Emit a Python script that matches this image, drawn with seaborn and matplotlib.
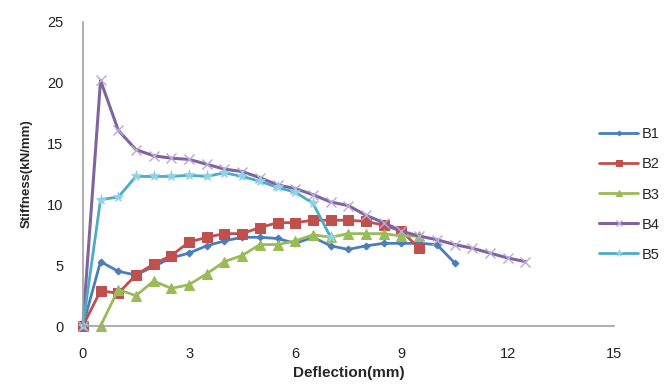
import numpy as np
import pandas as pd
import matplotlib
matplotlib.use("Agg")
import matplotlib.pyplot as plt
import seaborn as sns

sns.set_style("white")
plt.rcParams['font.family'] = ['Liberation Sans', 'DejaVu Sans']

series_names = ["B1", "B2", "B3", "B4", "B5"]

b1_x = [0, 0.5, 1, 1.5, 2, 2.5, 3, 3.5, 4, 4.5, 5, 5.5, 6, 6.5, 7, 7.5, 8, 8.5, 9, 9.5, 10, 10.5]
b1_y = [0, 5.3, 4.5, 4.2, 4.9, 5.6, 6.0, 6.6, 7.0, 7.3, 7.3, 7.2, 6.8, 7.3, 6.6, 6.3, 6.6, 6.8, 6.8, 6.8, 6.7, 5.2]

b2_x = [0, 0.5, 1, 1.5, 2, 2.5, 3, 3.5, 4, 4.5, 5, 5.5, 6, 6.5, 7, 7.5, 8, 8.5, 9, 9.5]
b2_y = [0, 2.9, 2.7, 4.2, 5.1, 5.8, 6.9, 7.3, 7.6, 7.6, 8.1, 8.5, 8.5, 8.7, 8.7, 8.7, 8.6, 8.3, 7.8, 6.4]

b3_x = [0.5, 1, 1.5, 2, 2.5, 3, 3.5, 4, 4.5, 5, 5.5, 6, 6.5, 7, 7.5, 8, 8.5, 9, 9.5]
b3_y = [0, 3.0, 2.5, 3.7, 3.1, 3.4, 4.3, 5.3, 5.8, 6.7, 6.7, 7.0, 7.5, 7.3, 7.6, 7.6, 7.6, 7.4, 7.4]

b4_x = [0, 0.5, 1, 1.5, 2, 2.5, 3, 3.5, 4, 4.5, 5, 5.5, 6, 6.5, 7, 7.5, 8, 8.5, 9, 9.5, 10, 10.5, 11, 11.5, 12, 12.5]
b4_y = [0, 20.2, 16.1, 14.5, 14.0, 13.8, 13.7, 13.3, 12.9, 12.7, 12.2, 11.6, 11.3, 10.8, 10.2, 9.9, 9.1, 8.5, 7.8, 7.4, 7.1, 6.7, 6.4, 6.0, 5.6, 5.3]

b5_x = [0, 0.5, 1, 1.5, 2, 2.5, 3, 3.5, 4, 4.5, 5, 5.5, 6, 6.5, 7]
b5_y = [0, 10.4, 10.6, 12.3, 12.3, 12.3, 12.4, 12.3, 12.6, 12.3, 11.9, 11.4, 11.0, 10.1, 7.3]

x_ticks = [0, 3, 6, 9, 12, 15]
y_ticks = [0, 5, 10, 15, 20, 25]

xs = [b1_x, b2_x, b3_x, b4_x, b5_x]
ys = [b1_y, b2_y, b3_y, b4_y, b5_y]
colors = ["#4A7EBB", "#C0504D", "#9BBB59", "#8064A2", "#4BACC6"]
markers = ["D", "s", "^", "x", "*"]
msizes = [3.5, 7, 6.5, 7, 8]
lws = [2.0, 2.0, 2.0, 2.2, 2.0]

fig = plt.figure(figsize=(6.68, 3.91), dpi=100)
ax = fig.add_axes([0.124, 0.166, 0.795, 0.778])

for name, x, y, c, m, ms, lw in zip(series_names, xs, ys, colors, markers, msizes, lws):
    df = pd.DataFrame({"x": x, "y": y})
    if m == "x":
        sns.lineplot(data=df, x="x", y="y", ax=ax, color=c, marker=m, markersize=ms,
                     markeredgecolor="#B9A8D3", markeredgewidth=1.0, linewidth=lw, label=name,
                     sort=False)
    elif m == "*":
        sns.lineplot(data=df, x="x", y="y", ax=ax, color=c, marker=m, markersize=ms,
                     markeredgecolor="#8ED3E6", markerfacecolor="#8ED3E6", markeredgewidth=0.5,
                     linewidth=lw, label=name, sort=False)
    else:
        sns.lineplot(data=df, x="x", y="y", ax=ax, color=c, marker=m, markersize=ms,
                     markeredgecolor=c, linewidth=lw, label=name, sort=False)

ax.set_xlim(0, 15)
ax.set_ylim(0, 25)
ax.set_xticks(x_ticks)
ax.set_yticks(y_ticks)
ax.tick_params(axis="x", labelsize=10.5, length=0, pad=15, colors="#222222")
ax.tick_params(axis="y", labelsize=10.5, length=0, pad=14, colors="#222222")
for s in ["top", "right"]:
    ax.spines[s].set_visible(False)
for s in ["left", "bottom"]:
    ax.spines[s].set_color("#A0A0A0")
    ax.spines[s].set_linewidth(1.2)
ax.set_xlabel("Deflection(mm)", fontsize=11, fontweight="bold", labelpad=4)
ax.set_ylabel("Stiffness(kN/mm)", fontsize=9.5, fontweight="bold", labelpad=10)
for line in ax.lines:
    line.set_clip_on(False)

handles, labels = ax.get_legend_handles_labels()
ax.get_legend().remove()
leg = fig.legend(handles, labels, loc="center left", bbox_to_anchor=(599 / 668, 1 - 194.5 / 391),
                 frameon=False, fontsize=10.5, handlelength=2.7, labelspacing=1.1,
                 handletextpad=0.25, borderpad=0, borderaxespad=0, markerscale=0.7)

fig.savefig("out.png", dpi=100)
